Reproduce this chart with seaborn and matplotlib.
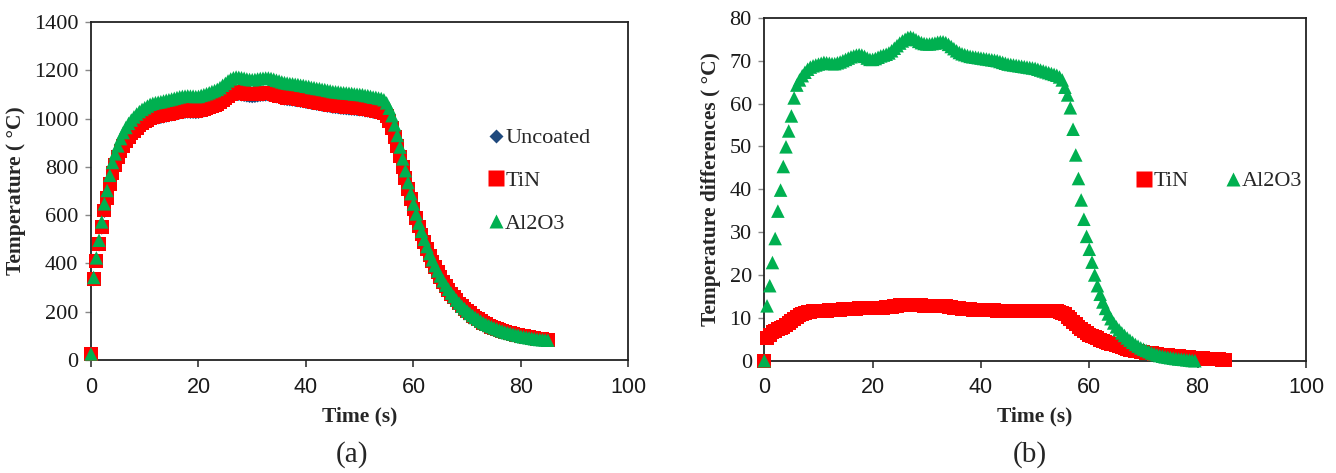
import numpy as np
import matplotlib
matplotlib.use("Agg")
import matplotlib.pyplot as plt
from matplotlib.lines import Line2D
import seaborn as sns

# ---------------- data ----------------
TIME = np.arange(0, 85.5, 0.5)  # sampling grid (s), 0.5 s steps

UNCOATED = [
    25, 329, 405, 473, 543, 612, 662, 720, 768, 800,
    830, 856, 878, 897, 913, 927, 939, 950, 960, 969,
    976, 983, 989, 993, 997, 999, 1001, 1003, 1006, 1008,
    1011, 1013, 1016, 1019, 1021, 1022, 1023, 1022, 1022, 1021,
    1022, 1025, 1028, 1032, 1036, 1040, 1044, 1049, 1055, 1064,
    1072, 1081, 1089, 1094, 1096, 1096, 1094, 1092, 1090, 1088,
    1087, 1088, 1090, 1092, 1093, 1094, 1094, 1092, 1089, 1086,
    1083, 1080, 1077, 1075, 1074, 1073, 1071, 1070, 1067, 1066,
    1063, 1062, 1059, 1058, 1055, 1054, 1051, 1050, 1047, 1046,
    1043, 1042, 1041, 1039, 1038, 1037, 1036, 1035, 1034, 1033,
    1032, 1031, 1028, 1027, 1025, 1022, 1021, 1018, 1016, 1012,
    999, 979, 950, 915, 876, 834, 790, 746, 702, 660,
    620, 582, 547, 515, 484, 456, 429, 404, 381, 360,
    340, 321, 303, 287, 272, 258, 244, 232, 220, 210,
    200, 191, 182, 174, 167, 160, 153, 147, 142, 137,
    132, 128, 124, 120, 116, 113, 110, 107, 104, 102,
    99, 97, 95, 93, 91, 90, 88, 87, 86, 85,
    84,
]

TIN = [
    25, 334, 411, 480, 550, 619, 670, 728, 776, 809,
    839, 866, 888, 908, 924, 938, 950, 961, 972, 981,
    988, 995, 1001, 1005, 1009, 1011, 1013, 1015, 1018, 1020,
    1023, 1025, 1028, 1031, 1033, 1034, 1035, 1034, 1034, 1033,
    1034, 1037, 1040, 1044, 1048, 1053, 1057, 1062, 1068, 1077,
    1085, 1094, 1102, 1107, 1109, 1109, 1107, 1105, 1103, 1101,
    1100, 1101, 1103, 1105, 1106, 1107, 1107, 1105, 1102, 1099,
    1095, 1092, 1089, 1087, 1086, 1085, 1083, 1082, 1079, 1078,
    1075, 1074, 1071, 1070, 1067, 1066, 1063, 1062, 1059, 1058,
    1055, 1054, 1053, 1051, 1050, 1049, 1048, 1047, 1046, 1045,
    1044, 1043, 1040, 1039, 1037, 1034, 1033, 1030, 1028, 1023,
    1010, 990, 960, 925, 885, 843, 798, 753, 709, 667,
    626, 588, 553, 520, 489, 461, 433, 408, 385, 364,
    344, 324, 306, 290, 275, 261, 247, 234, 222, 212,
    202, 193, 184, 176, 169, 162, 154, 148, 143, 138,
    133, 129, 125, 121, 117, 114, 111, 108, 105, 103,
    100, 98, 96, 94, 91, 90, 88, 87, 86, 85,
    84,
]

AL2O3 = [
    25, 342, 423, 496, 572, 647, 702, 765, 818, 854,
    887, 917, 942, 963, 980, 994, 1007, 1019, 1029, 1038,
    1045, 1052, 1059, 1063, 1066, 1068, 1070, 1073, 1076, 1078,
    1081, 1084, 1087, 1090, 1092, 1093, 1094, 1093, 1093, 1091,
    1092, 1096, 1099, 1103, 1107, 1112, 1116, 1121, 1128, 1138,
    1146, 1156, 1164, 1169, 1172, 1171, 1169, 1167, 1164, 1162,
    1161, 1162, 1164, 1166, 1167, 1168, 1168, 1166, 1163, 1159,
    1156, 1152, 1149, 1147, 1145, 1144, 1142, 1141, 1138, 1137,
    1134, 1133, 1129, 1128, 1125, 1124, 1121, 1120, 1117, 1115,
    1112, 1111, 1110, 1108, 1107, 1106, 1105, 1104, 1102, 1101,
    1100, 1099, 1096, 1095, 1092, 1089, 1088, 1085, 1083, 1078,
    1065, 1043, 1012, 974, 930, 882, 833, 784, 735, 689,
    646, 605, 567, 533, 500, 470, 441, 415, 391, 369,
    348, 328, 310, 293, 277, 263, 248, 236, 223, 213,
    203, 193, 184, 176, 169, 161, 154, 148, 143, 138,
    133, 129, 124, 120, 116, 113, 110, 107, 104, 102,
    98, 96, 94, 92, 90, 88, 86, 85, 84, 83,
    82,
]

TIN_DIFF = [
    0, 5.3, 6.0, 6.6, 7.0, 7.3, 7.6, 7.9, 8.3, 8.7,
    9.2, 9.7, 10.2, 10.6, 10.9, 11.1, 11.3, 11.4, 11.5, 11.5,
    11.6, 11.6, 11.7, 11.7, 11.8, 11.8, 11.9, 11.9, 11.9, 12.0,
    12.0, 12.0, 12.1, 12.1, 12.1, 12.2, 12.2, 12.2, 12.2, 12.2,
    12.2, 12.3, 12.3, 12.4, 12.4, 12.5, 12.5, 12.6, 12.7, 12.8,
    12.9, 13.0, 13.0, 13.1, 13.1, 13.0, 13.0, 12.9, 12.9, 12.8,
    12.8, 12.8, 12.8, 12.8, 12.8, 12.8, 12.8, 12.7, 12.6, 12.5,
    12.4, 12.3, 12.2, 12.1, 12.1, 12.0, 12.0, 11.9, 11.9, 11.9,
    11.8, 11.8, 11.8, 11.8, 11.8, 11.8, 11.7, 11.7, 11.7, 11.7,
    11.7, 11.7, 11.7, 11.7, 11.7, 11.7, 11.7, 11.7, 11.6, 11.6,
    11.6, 11.6, 11.6, 11.6, 11.6, 11.6, 11.5, 11.5, 11.5, 11.4,
    11.2, 10.8, 10.3, 9.7, 9.1, 8.5, 7.9, 7.4, 6.9, 6.5,
    6.1, 5.8, 5.5, 5.2, 4.9, 4.7, 4.4, 4.2, 4.0, 3.8,
    3.6, 3.4, 3.2, 3.0, 2.8, 2.6, 2.5, 2.3, 2.2, 2.1,
    2.0, 1.9, 1.8, 1.7, 1.6, 1.5, 1.45, 1.4, 1.3, 1.25,
    1.2, 1.1, 1.05, 1.0, 0.95, 0.9, 0.85, 0.8, 0.75, 0.7,
    0.65, 0.6, 0.55, 0.5, 0.45, 0.4, 0.35, 0.3, 0.3, 0.25,
    0.2,
]

AL2O3_DIFF = [
    0, 12.8, 17.5, 22.9, 28.5, 34.9, 39.8, 45.3, 49.9, 53.6,
    57.1, 61.3, 64.3, 65.5, 66.5, 67.3, 68.0, 68.5, 68.8, 69.0,
    69.2, 69.4, 69.6, 69.5, 69.4, 69.3, 69.3, 69.5, 69.7, 70.0,
    70.3, 70.6, 70.9, 71.1, 71.3, 71.4, 71.3, 71.0, 70.6, 70.3,
    70.3, 70.5, 70.8, 71.1, 71.3, 71.5, 71.8, 72.3, 72.9, 73.5,
    74.1, 74.6, 75.0, 75.4, 75.5, 75.3, 74.9, 74.5, 74.2, 74.0,
    73.9, 73.9, 74.0, 74.1, 74.3, 74.4, 74.4, 74.2, 73.8, 73.3,
    72.8, 72.3, 71.9, 71.6, 71.4, 71.2, 71.0, 70.9, 70.8, 70.7,
    70.6, 70.5, 70.4, 70.3, 70.2, 70.1, 70.0, 69.8, 69.6, 69.4,
    69.2, 69.1, 69.0, 68.9, 68.8, 68.7, 68.6, 68.5, 68.4, 68.3,
    68.2, 68.0, 67.8, 67.6, 67.4, 67.2, 67.0, 66.8, 66.6, 66.2,
    65.5, 63.8, 62.0, 59.0, 54.0, 48.0, 42.5, 37.5, 33.0, 29.0,
    26.0, 23.0, 20.0, 17.5, 15.5, 13.7, 12.2, 10.9, 9.8, 8.8,
    7.9, 7.2, 6.5, 5.9, 5.3, 4.8, 4.3, 3.8, 3.4, 3.0,
    2.7, 2.4, 2.1, 1.8, 1.6, 1.4, 1.2, 1.05, 0.9, 0.8,
    0.7, 0.6, 0.5, 0.4, 0.35, 0.3, 0.2, 0.15, 0.05, 0.0,
]

X_TICKS = [0, 20, 40, 60, 80, 100]
Y_TICKS_A = [0, 200, 400, 600, 800, 1000, 1200, 1400]
Y_TICKS_B = [0, 10, 20, 30, 40, 50, 60, 70, 80]

# ---------------- style ----------------
NAVY = "#1F497D"
RED = "#FF0000"
GREEN = "#00B050"
SERIF = ["Liberation Serif", "DejaVu Serif"]
SANS = ["Liberation Sans", "DejaVu Sans"]

sns.set_theme(style="white")
plt.rcParams["font.family"] = SERIF
plt.rcParams["axes.unicode_minus"] = False

fig = plt.figure(figsize=(13.36, 4.73), dpi=100)
ax1 = fig.add_axes([0.0681, 0.2389, 0.4023, 0.7146])
ax2 = fig.add_axes([0.5721, 0.2374, 0.4054, 0.7250])

SQ = 100
TRI = 95

def style_axes(ax, yticks, ylabel):
    ax.set_xlim(0, 100)
    ax.set_ylim(yticks[0], yticks[-1])
    ax.set_xticks(X_TICKS)
    ax.set_yticks(yticks)
    ax.set_xticklabels([str(v) for v in X_TICKS], family=SANS, fontsize=15.5, color="#1a1a1a")
    ax.set_yticklabels([str(v) for v in yticks], family=SERIF, fontsize=16, color="#1a1a1a")
    ax.tick_params(axis="x", direction="out", length=5, width=1.2, color="#333333", pad=7, bottom=True)
    ax.tick_params(axis="y", direction="out", length=4, width=1.0, color="#888888", pad=5, left=True)
    for side in ["left", "bottom", "right", "top"]:
        ax.spines[side].set_visible(True)
        ax.spines[side].set_color("#222222")
        ax.spines[side].set_linewidth(1.3)
    ax.set_xlabel("Time (s)", family=SERIF, fontsize=15.5, fontweight="bold", labelpad=6)
    ax.set_ylabel(ylabel, family=SERIF, fontsize=15.5, fontweight="bold", labelpad=6)
    ax.grid(False)

# ---- panel (a)
sns.scatterplot(x=TIME, y=UNCOATED, ax=ax1, marker="D", s=34, color=NAVY,
                edgecolor="none", linewidth=0, legend=False, clip_on=False, zorder=3)
sns.scatterplot(x=TIME, y=TIN, ax=ax1, marker="s", s=SQ, color=RED,
                edgecolor="none", linewidth=0, legend=False, clip_on=False, zorder=4)
sns.scatterplot(x=TIME, y=AL2O3, ax=ax1, marker="^", s=TRI, color=GREEN,
                edgecolor="none", linewidth=0, legend=False, clip_on=False, zorder=5)
style_axes(ax1, Y_TICKS_A, "Temperature ( \u00b0C)")

handles_a = [
    Line2D([], [], linestyle="none", marker="D", markersize=7, markerfacecolor=NAVY,
           markeredgecolor="none", label="Uncoated"),
    Line2D([], [], linestyle="none", marker="s", markersize=11, markerfacecolor=RED,
           markeredgecolor="none", label="TiN"),
    Line2D([], [], linestyle="none", marker="^", markersize=10, markerfacecolor=GREEN,
           markeredgecolor="none", label="Al2O3"),
]
ax1.legend(handles=handles_a, loc="center left", bbox_to_anchor=(0.72, 0.53),
           frameon=False, prop={"family": SERIF, "size": 16},
           handlelength=0.6, handletextpad=0.12, labelspacing=1.0, borderpad=0)

# ---- panel (b)
sns.scatterplot(x=TIME, y=TIN_DIFF, ax=ax2, marker="s", s=SQ, color=RED,
                edgecolor="none", linewidth=0, legend=False, clip_on=False, zorder=4)
sns.scatterplot(x=TIME[:len(AL2O3_DIFF)], y=AL2O3_DIFF, ax=ax2, marker="^", s=TRI,
                color=GREEN, edgecolor="none", linewidth=0, legend=False,
                clip_on=False, zorder=5)
style_axes(ax2, Y_TICKS_B, "Temperature differences ( \u00b0C)")

handles_b = [
    Line2D([], [], linestyle="none", marker="s", markersize=11, markerfacecolor=RED,
           markeredgecolor="none", label="TiN"),
    Line2D([], [], linestyle="none", marker="^", markersize=10, markerfacecolor=GREEN,
           markeredgecolor="none", label="Al2O3"),
]
ax2.legend(handles=handles_b, loc="center left", bbox_to_anchor=(0.668, 0.524),
           ncol=2, frameon=False, prop={"family": SERIF, "size": 16},
           handlelength=0.6, handletextpad=0.12, columnspacing=1.7, borderpad=0)

fig.text(0.2635, 0.038, "(a)", ha="center", va="center", family=SERIF, fontsize=21)
fig.text(0.771, 0.038, "(b)", ha="center", va="center", family=SERIF, fontsize=21)

fig.savefig("out.png", dpi=100, facecolor="white")
